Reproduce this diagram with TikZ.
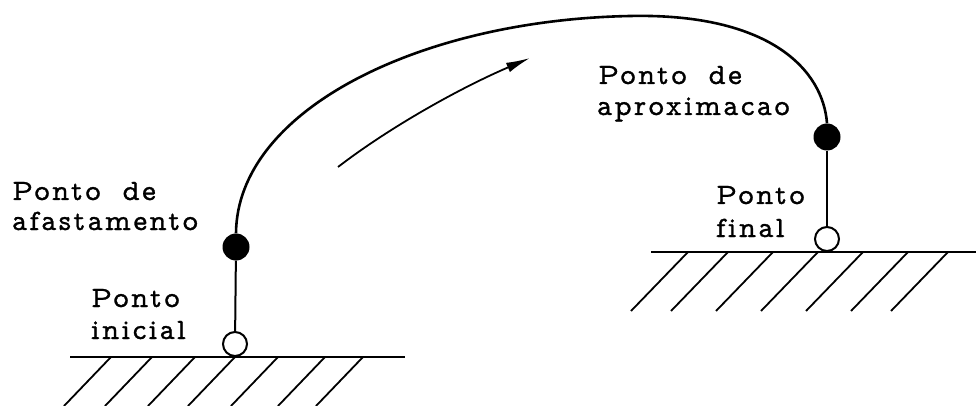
\documentclass[tikz,border=0pt]{standalone}
\usepackage{fontspec}
\newfontfamily\lblfont{lmmonoprop10-regular.otf}[LetterSpace=8,FakeBold=1,Ligatures={NoCommon}]
\usetikzlibrary{arrows.meta}
\begin{document}
\begin{tikzpicture}[x=1pt,y=-1pt,
  lbl/.style={anchor=base west,inner sep=0pt,font=\lblfont\fontsize{29.5}{30}\selectfont},
  opendot/.style={circle,draw,line width=2pt,fill=white,minimum size=24pt,inner sep=0pt},
  filldot/.style={circle,fill=black,minimum size=27pt,inner sep=0pt},
  ground/.style={line width=2.6pt},
  hatch/.style={line width=1.8pt},
  path/.style={line width=2.6pt},
  link/.style={line width=2pt}]
\fill[white] (0,0) rectangle (976,406);
\useasboundingbox (0,0) rectangle (976,406);
% left ground
\coordinate (gl1) at (70,357);
\coordinate (gl2) at (405,357);
\draw[ground] (gl1) -- (gl2);
\foreach \x in {111,152,195,235,278,325,363}
  \draw[hatch] (\x,357) -- ++(-47,49);
% right ground
\coordinate (gr1) at (651,252);
\coordinate (gr2) at (976,252);
\draw[ground] (gr1) -- (gr2);
\foreach \x in {688,728,773,818,863,908,948}
  \draw[hatch] (\x,252) -- ++(-57,59);
% points
\node[filldot] (af) at (236,247) {};
\node[opendot] (pi) at (235,344) {};
\node[filldot] (ap) at (827,137) {};
\node[opendot] (pf) at (827,239) {};
\draw[link] (af) -- (pi);
\draw[link] (ap) -- (pf);
% trajectory
\draw[path] (af.north) .. controls (237,110) and (420,20) .. (630,16)
  .. controls (770,13) and (823,70) .. (ap.north);
% direction arrow
\coordinate (a1) at (338,167);
\coordinate (a2) at (530,58);
\draw[line width=1.8pt,-{Latex[length=24pt,width=10pt]}] (a1) .. controls (390,127) and (460,88) .. (a2);
% labels
\node[lbl] (t1) at (12,200) {Ponto\hspace{9pt} de};
\node[lbl] (t2) at (12,230) {afastamento};
\node[lbl] (t3) at (91,307) {Ponto};
\node[lbl] (t4) at (91,339) {inicial};
\node[lbl] (t5) at (598,84) {Ponto\hspace{9pt} de};
\node[lbl] (t6) at (597,115) {aproximacao};
\node[lbl] (t7) at (716,204) {Ponto};
\node[lbl] (t8) at (716,237) {final};
\end{tikzpicture}
\end{document}
